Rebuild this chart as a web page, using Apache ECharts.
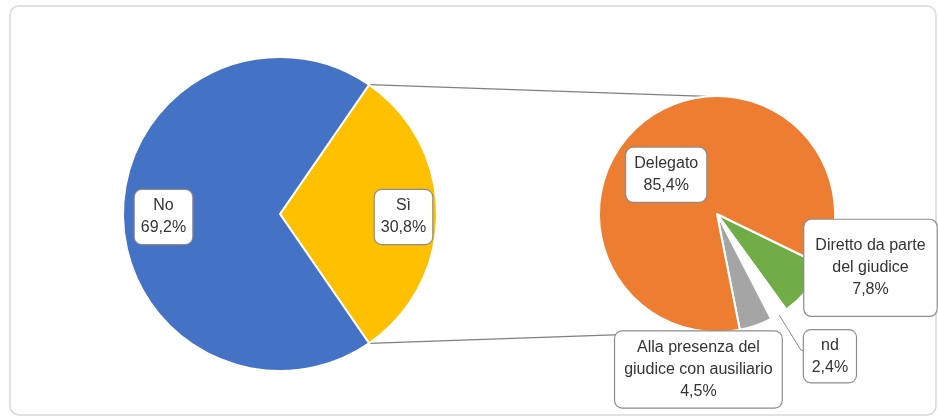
<!DOCTYPE html>
<html>
<head>
<meta charset="utf-8">
<script src="https://cdn.jsdelivr.net/npm/echarts@6/dist/echarts.min.js"></script>
<style>
  html, body { margin: 0; padding: 0; background: #fff; }
  #chart { width: 938px; height: 417px; }
</style>
</head>
<body>
<div id="chart"></div>
<script>
// pie principale
var mainNames = ['Sì', 'No'];
var mainValues = [30.8, 69.2];
var mainColors = ['#FFC000', '#4472C4'];

// dettaglio del "Sì" (ordine orario)
var subNames = ['Diretto da parte\ndel giudice', 'nd', 'Alla presenza del\ngiudice con ausiliario', 'Delegato'];
var subValues = [7.8, 2.4, 4.5, 85.4];
var subColors = ['#70AD47', '#FFFFFF', '#A5A5A5', '#ED7D31'];

var c1 = [280, 214], r1 = 157;
var c2 = [717, 214], r2 = 118;

var chart = echarts.init(document.getElementById('chart'));

function pct(v) { return v.toFixed(1).replace('.', ',') + '%'; }

var boxLabel = {
  show: true,
  position: 'inside',
  formatter: function (p) { return p.name + '\n' + pct(p.value); },
  fontFamily: 'Liberation Sans',
  fontSize: 16,
  lineHeight: 22,
  color: '#333333',
  align: 'center',
  backgroundColor: '#ffffff',
  borderColor: '#8c8c8c',
  borderWidth: 1.2,
  borderRadius: 7,
  padding: [5, 8]
};

// la fetta "Sì" è centrata sull'orizzontale destra
var mainTotal = mainValues.reduce(function (a, b) { return a + b; }, 0);
var halfSi = mainValues[0] / mainTotal * 180;
var mainStart = halfSi;

var mainOffsets = [[42, 3], [-35, 3]];
var subOffsets = [[106, 14], [-5, 6], [-39, 97], [-13, 10]];

function mainData() {
  return mainNames.map(function (n, i) {
    return { name: n, value: mainValues[i], itemStyle: { color: mainColors[i] }, label: { padding: [5, 6] } };
  });
}

function subData() {
  return subNames.map(function (n, i) {
    var d = { name: n, value: subValues[i], itemStyle: { color: subColors[i] } };
    if (i === 0) d.label = { padding: [15, 11] };
    if (i === 2) d.label = { padding: [5, 9] };
    if (i === 1) {
      d.label = {
        position: 'outside',
        padding: [4, 7],
        formatter: function (p) { return '{t|' + p.name + '}\n{t|' + pct(p.value) + '}'; },
        rich: { t: { width: 38, align: 'center', fontFamily: 'Liberation Sans', fontSize: 16, lineHeight: 22, color: '#333333' } }
      };
      d.labelLine = { show: true, length: 42, length2: 3, lineStyle: { color: '#8c8c8c', width: 1 } };
    }
    return d;
  });
}

// linee di collegamento tra le due torte
function rad(a) { return a * Math.PI / 180; }
var p1 = [c1[0] + r1 * Math.cos(rad(halfSi)), c1[1] - r1 * Math.sin(rad(halfSi))];
var p2 = [c1[0] + r1 * Math.cos(rad(halfSi)), c1[1] + r1 * Math.sin(rad(halfSi))];
var q1 = [c2[0] + r2 * Math.cos(rad(95)), c2[1] - r2 * Math.sin(rad(95))];
var q2 = [c2[0] + r2 * Math.cos(rad(95)), c2[1] + r2 * Math.sin(rad(95))];

var option = {
  animation: false,
  backgroundColor: '#ffffff',
  graphic: [
    {
      type: 'rect',
      shape: { x: 10, y: 6, width: 926, height: 409, r: 9 },
      style: { fill: 'none', stroke: '#d9d9d9', lineWidth: 1.5 }
    },
    {
      type: 'line',
      shape: { x1: p1[0], y1: p1[1], x2: q1[0], y2: q1[1] },
      style: { stroke: '#7f7f7f', lineWidth: 1.3 }
    },
    {
      type: 'line',
      shape: { x1: p2[0], y1: p2[1], x2: q2[0], y2: q2[1] },
      style: { stroke: '#7f7f7f', lineWidth: 1.3 }
    }
  ],
  series: [
    {
      type: 'pie',
      center: c1,
      radius: r1,
      startAngle: mainStart,
      clockwise: true,
      avoidLabelOverlap: false,
      itemStyle: { borderColor: '#ffffff', borderWidth: 2 },
      label: boxLabel,
      labelLine: { show: false },
      labelLayout: function (p) {
        var o = mainOffsets[p.dataIndex];
        return { dx: o[0], dy: o[1] };
      },
      emphasis: { disabled: true },
      data: mainData()
    },
    {
      type: 'pie',
      center: c2,
      radius: r2,
      startAngle: -26,
      clockwise: true,
      avoidLabelOverlap: false,
      itemStyle: { borderColor: '#ffffff', borderWidth: 2 },
      label: boxLabel,
      labelLine: { show: false },
      labelLayout: function (p) {
        var o = subOffsets[p.dataIndex];
        return { dx: o[0], dy: o[1] };
      },
      emphasis: { disabled: true },
      data: subData()
    }
  ]
};

chart.setOption(option);
</script>
</body>
</html>
